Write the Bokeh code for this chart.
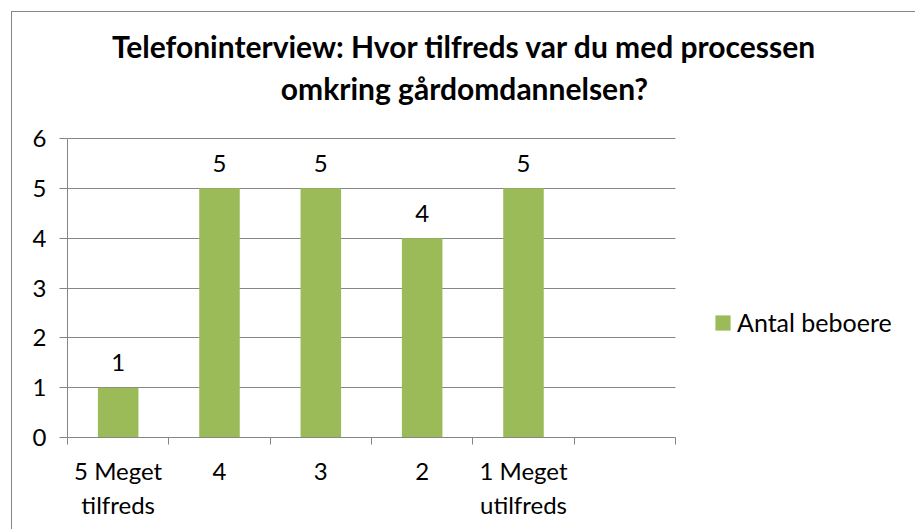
from bokeh.plotting import figure
from bokeh.models import (Range1d, FixedTicker, Legend, LegendItem, ColumnDataSource, Label)
from bokeh.embed import file_html
from bokeh.resources import INLINE

title_lines = ["Telefoninterview: Hvor tilfreds var du med processen",
               "omkring gårdomdannelsen?"]
categories = ["5 Meget\ntilfreds", "4", "3", "2", "1 Meget\nutilfreds", ""]
values = [1, 5, 5, 4, 5]
series_name = "Antal beboere"
y_ticks = [0, 1, 2, 3, 4, 5, 6]
y_max = 6

GREEN = "#9BBB59"
GRAY = "#868686"
FONT = "Lato"
FS = "24px"

# layout (pixels)
W, H = 904, 518
FL = 55                 # frame left inside figure
FH = 425                # frame height (top of figure to category axis)
FW = W - FL             # frame spans to the right edge
PLOT_W, PLOT_H = 608, 299   # pixel size of the plotting area proper

n = len(categories)
x_end = n * FW / PLOT_W
y_end = y_max * FH / PLOT_H

p = figure(width=W, height=H, output_backend="svg", toolbar_location=None,
           title=None, x_range=Range1d(0, x_end), y_range=Range1d(0, y_end),
           min_border_left=FL, min_border_top=0, min_border_right=0,
           min_border_bottom=H - FH)
p.margin = (11, 0, 0, 11)
p.styles = {"border-left": "1px solid #868686", "border-top": "1px solid #868686"}
p.outline_line_color = None
p.background_fill_color = "white"
p.border_fill_color = "white"

xs = [i + 0.5 for i in range(len(values))]
src = ColumnDataSource(dict(x=xs, top=values, lbl=[str(v) for v in values]))
r = p.vbar(x="x", top="top", width=0.4, source=src, fill_color=GREEN, line_color=None)
p.text(x="x", y="top", text="lbl", source=src, text_align="center",
       text_baseline="middle", y_offset=-25, text_font_size=FS,
       text_font={"value": FONT}, text_color="black")

# axes
xt = FixedTicker(ticks=[i + 0.5 for i in range(n)], minor_ticks=list(range(n + 1)))
p.xaxis.ticker = xt
p.xaxis.bounds = (0, n)
p.xaxis.major_label_overrides = {i + 0.5: c for i, c in enumerate(categories)}
p.xaxis.major_tick_line_color = None
p.xaxis.major_tick_out = 0
p.xaxis.major_tick_in = 0
p.xaxis.minor_tick_out = 7
p.xaxis.minor_tick_in = 0
p.xaxis.minor_tick_line_color = GRAY
p.xaxis.axis_line_color = GRAY
p.xaxis.major_label_standoff = 11
p.xaxis.major_label_text_font = FONT
p.xaxis.major_label_text_font_size = FS
p.xaxis.major_label_text_color = "black"

p.yaxis.ticker = FixedTicker(ticks=y_ticks)
p.yaxis.bounds = (0, y_max)
p.yaxis.axis_line_color = GRAY
p.yaxis.major_tick_line_color = GRAY
p.yaxis.major_tick_out = 8
p.yaxis.major_tick_in = 0
p.yaxis.minor_tick_line_color = None
p.yaxis.major_label_standoff = 13
p.yaxis.major_label_text_font = FONT
p.yaxis.major_label_text_font_size = FS
p.yaxis.major_label_text_color = "black"

p.xgrid.visible = False
p.ygrid.ticker = FixedTicker(ticks=y_ticks)
p.ygrid.cross_bounds = (0, n)
p.ygrid.grid_line_color = GRAY

# title (two centred lines)
for txt, yy in zip(title_lines, [392, 350]):
    p.add_layout(Label(x=397, y=yy, x_units="screen", y_units="screen", text=txt,
                       text_align="center", text_baseline="alphabetic",
                       text_font=FONT, text_font_style="bold",
                       text_font_size="30px", text_color="black"))

legend = Legend(items=[LegendItem(label=series_name, renderers=[r])],
                location=(646, 100), orientation="vertical",
                glyph_width=19, glyph_height=19, label_standoff=5,
                padding=0, margin=0, spacing=0,
                border_line_color=None, background_fill_alpha=0,
                label_text_font=FONT, label_text_font_size="25px",
                label_text_color="black")
p.add_layout(legend)

open("out.html", "w").write(file_html(p, INLINE))
